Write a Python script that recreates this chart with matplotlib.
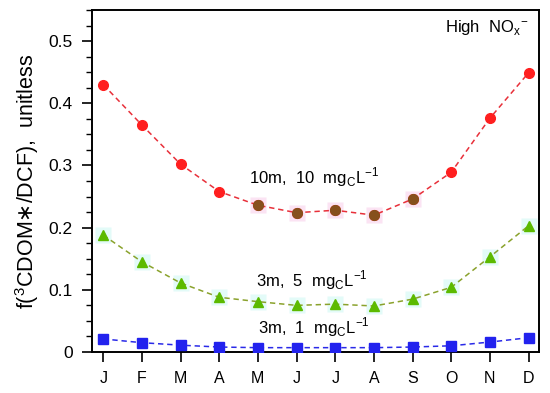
import numpy as np
import matplotlib
matplotlib.use("Agg")
import matplotlib.pyplot as plt
from matplotlib.ticker import MultipleLocator

plt.rcParams['font.family'] = ['Liberation Sans', 'DejaVu Sans']

# data
months = ["J", "F", "M", "A", "M", "J", "J", "A", "S", "O", "N", "D"]
deep_10 = [0.430, 0.365, 0.302, 0.258, 0.236, 0.224, 0.228, 0.220, 0.246, 0.289, 0.376, 0.449]
mid_5 = [0.188, 0.145, 0.111, 0.088, 0.081, 0.075, 0.077, 0.074, 0.085, 0.104, 0.153, 0.203]
shallow_1 = [0.021, 0.015, 0.011, 0.008, 0.007, 0.007, 0.007, 0.007, 0.008, 0.010, 0.016, 0.023]
# months where the red marks look brownish in the original
brown_idx = [4, 5, 6, 7, 8]

x = np.arange(len(months))

fig = plt.figure(figsize=(5.5, 3.93), dpi=100)
ax = fig.add_axes([0.1673, 0.1043, 0.8127, 0.8703])

# faint highlight boxes behind some markers
ax.plot(x, mid_5, ls='none', marker='s', ms=11, mfc='#e3fbf8', mec='none', zorder=1)
ax.plot(x[brown_idx], np.array(deep_10)[brown_idx], ls='none', marker='s', ms=11,
        mfc='#fbe3f3', mec='none', zorder=1)

dash = (3.5, 2.5)
ax.plot(x, deep_10, ls='--', dashes=dash, color='#e8303a', lw=1.1, marker='o', ms=7,
        mfc='#ff1f1f', mec='#ff1f1f', zorder=3)
ax.plot(x[brown_idx], np.array(deep_10)[brown_idx], ls='none', marker='o', ms=7,
        mfc='#86501c', mec='#86501c', zorder=4)
ax.plot(x, mid_5, ls='--', dashes=dash, color='#8aa22c', lw=1.1, marker='^', ms=7.5,
        mfc='#5cba00', mec='#5cba00', zorder=3)
ax.plot(x, shallow_1, ls='--', dashes=dash, color='#2a2ae8', lw=1.1, marker='s', ms=6.5,
        mfc='#2222ee', mec='#2222ee', zorder=3)

ax.text(5.45, 0.281, r"10m,  10  mg$_\mathregular{C}$L$^\mathregular{-1}$", ha='center', va='center', fontsize=12)
ax.text(5.4, 0.116, r"3m,  5  mg$_\mathregular{C}$L$^\mathregular{-1}$", ha='center', va='center', fontsize=12)
ax.text(5.45, 0.040, r"3m,  1  mg$_\mathregular{C}$L$^\mathregular{-1}$", ha='center', va='center', fontsize=12)
ax.text(11.0, 0.522, r"High  NO$_\mathregular{x}$$^\mathregular{-}$", ha='right', va='center', fontsize=12)

ax.set_xlim(-0.29, 11.27)
ax.set_ylim(0, 0.55)
ax.set_xticks(x)
ax.set_xticklabels(months, fontsize=11.5)
ax.yaxis.set_major_locator(MultipleLocator(0.1))
ax.yaxis.set_minor_locator(MultipleLocator(0.025))
ax.set_yticks([0, 0.1, 0.2, 0.3, 0.4, 0.5])
ax.set_yticklabels(["0", "0.1", "0.2", "0.3", "0.4", "0.5"], fontsize=12.5)
ax.tick_params(axis='both', which='major', length=7, width=1.2, direction='out')
ax.tick_params(axis='y', which='minor', length=4, width=1.0, direction='out')
ax.tick_params(axis='x', pad=7)
ax.tick_params(axis='y', which='major', pad=7)
for s in ax.spines.values():
    s.set_linewidth(1.4)

ax.set_ylabel(r"f($^\mathregular{3}$CDOM$\ast$/DCF),  unitless", fontsize=15.5, labelpad=5)

fig.savefig("out.png", dpi=100)
